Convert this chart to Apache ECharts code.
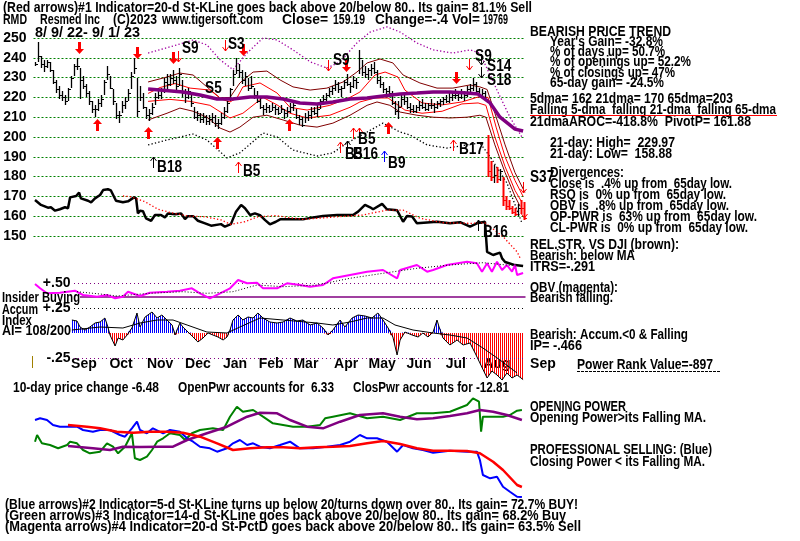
<!DOCTYPE html>
<html><head><meta charset="utf-8">
<script src="https://cdn.jsdelivr.net/npm/echarts@6/dist/echarts.min.js"></script>
<style>html,body{margin:0;padding:0;background:#fff}#c{width:800px;height:541px}</style>
</head><body><div id="c"></div>
<script>
// ---------- DATA (bar index = sampled trading day, 8/9/22 .. 9/1/23) ----------
const hi = [238,248,241,239,239,238,234,229,226,223, 221,225,231,237,240,235,231,227,223,218,
 216,219,221,229,236,231,224,217,213,218, 220,224,233,240,230,226,222,215,214,217,
 222,225,225,230,232,232,234,231,235,229, 224,225,222,215,213,212,212,211,211,212,
 211,209,212,215,218,225,234,240,237,234, 233,230,231,225,223,220,216,217,216,217,
 216,215,216,214,215,217,218,214,211,210, 212,213,215,215,216,219,221,222,225,226,
 229,228,226,229,232,228,231,230,244,239, 236,235,237,238,234,231,228,225,226,223,
 218,218,221,222,220,217,216,216,218,219, 217,217,219,217,218,219,220,221,222,223,
 224,223,224,223,226,227,230,228,225,224, 223,201,188,186,185,184,180,170,168,165,
 164,166,168,167];
const lo = [236,238,235,233,235,233,227,222,219,218, 216,218,225,231,234,219,224,220,216,212,
 210,213,215,221,229,224,216,209,207,212, 214,218,224,232,210,218,214,209,208,211,
 216,219,219,222,224,226,227,223,226,220, 217,219,215,209,208,207,207,206,206,207,
 205,204,206,209,212,218,226,232,230,227, 226,223,224,219,217,214,211,212,212,213,
 211,211,212,209,210,212,213,209,206,205, 207,208,209,211,210,214,216,217,220,221,
 223,222,220,224,226,222,225,224,232,231, 230,229,231,232,227,225,222,220,221,216,
 211,209,215,216,214,212,212,212,213,214, 213,213,214,212,214,215,216,217,217,218,
 219,218,219,218,220,221,223,222,220,219, 218,180,178,177,177,178,165,163,163,161,
 160,160,161,158];
const cl = [237,241,237,236,238,234,228,224,221,220, 218,224,230,236,236,229,226,222,218,214,
 214,217,219,228,232,225,218,211,211,216, 218,222,231,235,213,220,215,211,212,215,
 220,221,223,228,227,230,229,226,232,222, 220,223,217,210,211,209,210,208,209,210,
 207,207,210,213,217,224,232,234,233,229, 231,225,226,221,218,215,214,215,213,215,
 214,212,214,212,213,215,216,210,209,206, 210,211,213,212,214,218,219,221,223,225,
 227,224,225,228,227,226,229,228,240,233, 232,234,235,233,229,227,224,223,222,217,
 213,215,219,218,215,214,213,215,216,215, 214,216,216,215,217,218,219,218,220,221,
 221,220,222,221,224,225,227,223,221,222, 219,183,180,181,179,183,168,165,164,162,
 161,164,164,159.19];

const ma65 = [[37.7,224.2],[49.3,222.7],[55,221.2],[60.7,219.2],[66,219.2],[71.7,220.2],[77.3,220.2],[82.7,219.2],[88.3,217.2],[94,216.7],[99.3,217.7],[105,219.2],[110.7,219.7],[116,220.7],[121.7,221.7],[127.3,222.2],[132.7,222.7],[138.3,222.7],[144,222.2],[147.7,221.7],[151.7,217.2],[155,210],[160,204],[162.7,203]];
const upOuter = [[37.7,227.8],[44,230.3],[48.3,232.3],[52.7,231.3],[57.3,225.3],[61.7,219.7],[65,220],[68.3,227.3],[72.7,232.8],[77.3,233.3],[81.7,228.8],[86,225.3],[91.7,223.7],[97.3,224.7],[102.7,227.8],[107.3,232.8],[110.7,237.4],[115,239.4],[119.3,237.4],[122.7,231.3],[128.3,227.3],[134,224.7],[139.3,224.7],[145,226.3],[148.3,225.3],[150.7,224],[153.3,212],[156.7,196],[160,182],[163.3,172]];
const upInner = [[37.7,222],[41.7,225],[46.7,227],[51.7,224.7],[58.3,223.7],[62.3,219],[65,217.7],[67.3,219.7],[69.3,225.3],[75,227.3],[80.7,222.2],[85,215],[90.7,213.6],[98.3,216],[105,220],[108.3,222.7],[113.3,231.3],[116.7,232.8],[121,230.3],[123.3,223.7],[129,217.2],[135.7,216.2],[142.3,217.7],[147.7,220.2],[151,220],[153.7,205],[156.7,190],[160,178],[162.7,170]];
const loInner = [[37.7,218],[45,219],[51.7,218],[58.3,216],[65,209.6],[69.3,212],[76,220],[80.7,216.2],[85,212],[90.7,209.6],[98.3,211],[105,215],[108.3,217.7],[113.3,219.7],[117.7,219.7],[123.3,213.6],[129,212],[135.7,213],[142.3,216.7],[147.7,217.2],[150.3,216],[153.3,200],[156.7,185],[160,173],[162.3,167]];
const loOuter = [[37.7,208.6],[44,212],[48.3,214.6],[52.7,213],[57.3,210],[61.7,204.5],[65,202.5],[68.3,205],[72.7,210],[77.3,211],[82.7,208.6],[88.3,206],[94,205],[99.3,207],[105,211],[110.7,216],[114,217.7],[118.3,216],[121.7,212.6],[127.3,211],[132.7,210],[138.3,209.6],[144,210],[148.3,211],[150.3,210],[153.3,196],[156.7,182],[160,170],[161.7,165]];
const magDots = [[37.7,242.4],[47.3,246.5],[52.7,249],[57.3,246.5],[61.7,239],[66,234],[70.7,242.4],[76,250],[80.7,249],[86,244],[91.7,238],[97.3,234.8],[101.7,238],[107.3,247.5],[111.7,253],[117.3,255.6],[121.7,253],[127.3,247.5],[132.7,244],[139.3,242.4],[145,244],[148.3,242.4],[154,223.7],[158.3,210],[162.3,200]];
const blkDots = [[37.7,196],[44,198.5],[52.7,201.5],[57.3,198.5],[64,189.4],[68.3,192],[76,202],[80.7,200],[86,193.4],[94,190.4],[99.3,192],[104,197],[110.7,202.5],[116,207],[121.7,202.5],[125,201],[130.7,196],[137.3,194.4],[144,196],[148.3,197],[151.7,190],[157.3,176.8],[160.7,163],[162.3,156.6]];

const rsLine = [[0,168.2],[2,165.7],[4.3,164.3],[5.3,164.5],[6.7,162.8],[8.3,163.5],[10,164.5],[11,164],[11.7,169.5],[13.7,170.2],[14.7,171.9],[15.3,169],[17.7,167.8],[18.7,167],[20,169],[21.7,170.7],[22.7,173.2],[24.3,173.6],[25.3,173],[27,167.8],[29.3,167],[31,167.5],[33,169.5],[33.7,169],[34.3,161.4],[35,162.8],[36,162.5],[37,158.9],[38.7,157.7],[40,160.6],[42,160.6],[43.3,159.4],[44.3,161.4],[46.7,161],[48.7,161.4],[50,158.6],[51,160],[52.7,160],[54.3,157.7],[56.7,156.4],[58.7,155.2],[62,156],[63.3,154.7],[65.3,156],[67,162.3],[68.7,165.7],[70,164],[71.7,160.6],[73.3,161.4],[75,160.5],[76.7,158],[78.3,155.9],[80.3,157.2],[81.7,158.4],[85,158.4],[89.3,158.4],[92.7,159.4],[96,160.1],[100.7,160.6],[106,160.6],[107.7,162.3],[110,165.7],[111.7,164.5],[112.7,163.5],[115.7,166.2],[117.3,163.5],[120.7,163],[122.7,157.2],[124,160.1],[125.7,159.8],[127.3,156.4],[130.7,156.8],[134,157.2],[138.3,156.4],[141.7,157],[145,154.7],[147.3,156.4],[150,157.2],[150.7,142],[152.7,140.4],[155,141.6],[155.7,138.7],[156.7,136.9],[160,135.3],[162.7,134.8]];
const rsMA = [[29.3,170.2],[32,169.8],[36.7,167.3],[41,163.5],[45.3,161.8],[51,160.1],[56.7,159.7],[62,158.1],[65.3,155.9],[70,157.2],[74.3,159.7],[80,160.3],[89.3,158.4],[100.7,159.7],[109.3,160.6],[117.3,163.1],[122.7,163.1],[128.3,159],[136,156.7],[145,156.4],[150,156.6],[156,149.7],[160.7,142],[161.7,138.9]];

const obv = [[0,1.6],[1.7,1.17],[4,0.67],[8.3,0.73],[13.3,0.93],[16,0.5],[20.7,0.33],[24,0.5],[26.7,0.17],[29.3,0.33],[31,0.83],[35,0.4],[38.3,0.73],[44,0.83],[48.3,0.93],[52.3,1.17],[55,0.67],[58.3,0.17],[61.7,0.67],[65,1.17],[67.7,2.0],[70.7,1.67],[74,1.73],[76,1.17],[80.7,1.17],[84,1.67],[88.3,1.5],[91.7,1.33],[96,1.5],[99.3,2.17],[105,2.5],[110.7,2.83],[116,3.0],[120.7,2.17],[121.7,3.0],[127.3,3.5],[130.7,2.83],[132.7,3.0],[137.3,3.5],[144,3.83],[147.3,3.67],[149,2.83],[150.7,3.67],[152.3,2.83],[154,3.83],[155.7,3.0],[157.3,3.5],[159,2.83],[160,3.5],[160.7,2.5],[162.7,2.7]];
const obvMA = [[14,0.83],[21.7,0.6],[27.3,0.4],[38.3,0.67],[49.3,0.83],[57.3,0.67],[66,0.83],[74,1.5],[82.7,1.33],[94,1.5],[105,2.17],[116,2.67],[127.3,3.17],[138.3,3.5],[149.3,3.73],[160.7,3.4]];

const ai = [[12.3,0.13],[14,0.12],[15,0.06],[16.7,0.03],[18.3,0.06],[20,0.10],[21.7,0.11],[23.3,0.15],[24.3,0.06],[25,-0.02],[26.7,-0.13],[27.7,-0.05],[29.3,-0.07],[30.7,-0.02],[32.3,0.05],[34,0.20],[35,0.06],[36.7,0.16],[39,0.21],[40.7,0.15],[42.3,0.18],[44,0.13],[45.7,0.08],[46.7,-0.02],[48.3,0.10],[49.3,0.06],[51,0.01],[52.7,-0.04],[54.3,-0.09],[56,-0.05],[57.7,0.00],[59.3,-0.02],[61,-0.04],[62.7,-0.07],[64,-0.04],[65,0.03],[66,0.13],[67.7,0.18],[69.3,0.13],[71,0.16],[72.7,0.15],[74.3,0.20],[76,0.15],[78.3,0.11],[80.7,0.10],[82.7,0.11],[85,0.15],[87.3,0.12],[89.3,0.13],[91.7,0.08],[94,0.10],[96,0.05],[97.7,-0.02],[99.3,0.03],[101.7,0.13],[103.3,0.06],[105.7,0.15],[107.7,0.18],[110,0.17],[112.3,0.15],[114.3,0.20],[116,0.13],[117.7,0.05],[119.3,-0.04],[120.7,-0.22],[121.7,-0.07],[123.3,0.01],[125.7,-0.02],[127.7,-0.04],[129.3,0.00],[131,-0.04],[132.7,0.01],[134,0.13],[134.7,0.06],[136,-0.05],[138.3,-0.12],[140.7,-0.07],[142.7,-0.12],[145,-0.10],[146.7,-0.20],[148.3,-0.30],[150.7,-0.45],[152.3,-0.38],[154,-0.42],[155.7,-0.47],[157.3,-0.40],[159,-0.45],[160.7,-0.42],[162.7,-0.466]];
const aiMA = [[12.3,0.03],[21.7,0.06],[29.3,0.05],[35,0.10],[40.7,0.13],[46,0.13],[50.7,0.08],[57.3,0.01],[64,0.0],[68.3,0.06],[75,0.15],[82.7,0.13],[94,0.10],[99.3,0.08],[105,0.11],[110.7,0.15],[116,0.15],[120,0.08],[126,0.03],[132.7,0.0],[138.3,-0.02],[144,-0.05],[149.3,-0.15],[155,-0.27],[160.7,-0.40]];
const aiTicks = [0.5, 0.25, -0.25];
const aiTickLabels = ['+.50', '+.25', '-.25'];
const insiderLevel = 0.36;

const opLine = [[0,5.83],[0.7,6.5],[2.3,5.67],[5,5.5],[7.7,5.17],[10.7,5.5],[11.7,5.83],[14,5.67],[16,5.0],[18.3,4.67],[21.7,4.83],[24,5.67],[26,5.33],[27.7,4.67],[30,5.33],[32.3,6.67],[33.3,4.17],[35,4.0],[37.3,4.33],[39,5.0],[40.7,5.83],[42.7,6.17],[45,6.67],[48.3,6.5],[50,6.0],[52.3,6.67],[55,7.0],[59.3,7.17],[62.7,7.0],[65,8.33],[67.3,9.33],[69.3,8.83],[72.7,9.0],[76,8.33],[79.3,7.67],[82.7,7.5],[86,7.33],[90.7,7.33],[95,7.5],[96.7,8.17],[99.3,8.33],[105,8.67],[110.7,8.17],[116,8.33],[121.7,8.0],[127.3,8.67],[132.7,8.67],[138.3,8.83],[144,9.5],[146,10.17],[148,9.83],[148.7,6.83],[149.3,8.33],[152.7,8.33],[156,8.33],[158.3,8.5],[160.7,8.93],[162.3,9.0]];
const opMA = [[11,5.4],[19.3,5.17],[25,5.0],[29.3,5.33],[35,5.3],[41.7,5.33],[46,5.33],[50.7,6.0],[57.3,6.67],[64,7.33],[70.7,8.33],[75,8.73],[80.7,8.67],[85,8.0],[90.7,7.33],[96,7.17],[101.7,7.83],[108.3,8.5],[116,8.67],[121.7,8.33],[127.3,8.07],[132.7,8.17],[138.3,8.4],[144,8.67],[148.3,9.0],[152.7,8.83],[157.3,8.5],[162.3,8.0]];
const cpLine = [[0,8.0],[1.7,8.17],[4,8.0],[6,7.5],[8.3,7.33],[10.7,7.33],[14,7.33],[16,7.0],[19.3,6.83],[21.7,7.0],[25,7.0],[28.3,6.5],[30,6.33],[32.3,7.17],[34,7.83],[35,7.0],[37.3,6.67],[39.3,7.17],[42.7,6.67],[45,7.0],[48.3,6.83],[50.7,6.17],[52.7,5.83],[55,5.33],[58.3,5.17],[60.7,4.83],[64,5.17],[66,5.67],[68.3,6.0],[70.7,5.5],[72.7,5.67],[75,5.33],[78.3,5.17],[81.7,5.5],[85,5.83],[88.3,5.17],[92.7,5.17],[97.3,5.33],[101.7,5.5],[105,5.83],[108.3,6.5],[110.7,6.17],[114,6.17],[117.3,5.83],[120.7,4.83],[122.7,5.5],[126,5.17],[129.3,5.0],[132.7,4.73],[138.3,4.93],[144,4.83],[147.3,4.83],[148.3,4.0],[149.3,2.5],[151.7,2.17],[154,2.33],[156,1.33],[158.3,0.83],[160.7,0.33],[162.3,0.3]];
const cpMA = [[11,7.5],[17.3,7.33],[21.7,7.17],[27.3,6.83],[32.7,6.73],[38.3,6.83],[44,6.83],[49.3,6.73],[55,6.33],[60.7,5.67],[66,5.0],[71.7,5.17],[77.3,5.27],[82.7,5.27],[88.3,5.17],[94,5.27],[99.3,5.33],[105,5.4],[110.7,5.67],[116,5.9],[121.7,5.6],[127.3,5.17],[132.7,4.93],[138.3,4.93],[144,4.9],[148.3,4.67],[152.7,3.83],[156,3.0],[160.7,1.5],[162.3,1.3]];

const bigSell = [[14.7,245],[34,242.4],[46,239.9],[69.3,243.9],[103.7,235.9],[140.3,229.8]];
const bigBuy = [[20.7,206.1],[37.7,202],[60.7,197],[84.7,206.1],[117.7,204.5]];
const thinSell = [[63.3,246],[47.7,240.4],[97.7,235.9],[144.7,236.4],[162.7,174.2],[163,161.6]];
const thinBuy = [[67.7,184.8],[101.7,195],[106,202],[108,202],[139.3,196]];
const blackBuy = [[39.3,187.4],[104,195.5],[147.7,155.6]];
const blackSell = [[148.7,238.9],[148.7,232.3]];
const blueBuy = [[116.3,190.4]];
const sigLabels = [['S9',49,244.4],['S3',64.3,246.5],['S5',56.7,224.7],['S9',99.3,238.4],['S9',146.7,240.4],['S14',150.7,235.4],['S18',150.7,228.3],['B18',40.7,184.3],['B5',69.3,182.3],['B5',107.7,198.5],['B5',103.3,190.9],['B16',106,190.9],['B9',117.7,186.4],['B17',141.3,193.4],['B16',149.3,151.5],['S37',165,179.3]];

const monthLabels = ['Sep','Oct','Nov','Dec','Jan','Feb','Mar','Apr','May','Jun','Jul','Aug','Sep'];
const monthPos = [16.3,28.7,41.7,54.3,66.7,78.7,90.3,103.7,115.7,128,140.3,154,169.3];

const texts = [
 ['(Red arrows)#1 Indicator=20-d St-KLine goes back above 20/below 80.. Its gain= 81.1% Sell',3,8,529],
 ['RMD',3,20,24],['Resmed Inc',40,20,60],['(C)2023',113,20,44],['www.tigersoft.com',162,20,101],
 ['Close=',282,20,46],['159.19',333,20,32],['Change=-.4',375,20,73],['Vol=',452,20,28],['19769',483,20,25],
 ['8/ 9/ 22- 9/ 1/ 23',35,33,105],
 ['BEARISH PRICE TREND',530,32,141],
 ["Year's Gain= -32.8%",550,42,113],
 ['% of days up= 50.7%',550,52,115],
 ['% of openings up= 52.2%',550,62,141],
 ['% of closings up= 47%',550,73,125],
 ['65-day gain= -24.5%',550,83,114],
 ['5dma= 162 21dma= 170 65dma=203',530,99,203],
 ['Falling 5-dma  falling 21-dma  falling 65-dma',530,110,246],
 ['21dmaAROC=-418.8%  PivotP= 161.88',530,122,221],
 ['21-day: High=  229.97',550,143,125],
 ['21-day: Low=  158.88',550,154,122],
 ['Divergences:',550,173,74],
 ['Close is  .4% up from  65day low.',550,184,182],
 ['RSQ is  0% up from  65day low.',550,195,176],
 ['OBV is  .8% up from  65day low.',550,206,179],
 ['OP-PWR is  63% up from  65day low.',550,217,207],
 ['CL-PWR is  0% up from  65day low.',550,228,198],
 ['REL.STR. VS DJI (brown):',530,245,149],
 ['Bearish: below MA',530,256,105],
 ['ITRS=-.291',530,267,65],
 ['OBV (magenta):',530,288,88],
 ['Bearish falling.',530,298,83],
 ['Bearish: Accum.<0 & Falling',530,335,158],
 ['IP= -.466',530,346,52],
 ['Power Rank Value=-897',577,365,136],
 ['OPENING POWER',530,407,96],
 ['Opening Power>its Falling MA.',530,418,176],
 ['PROFESSIONAL SELLING: (Blue)',530,450,182],
 ['Closing Power < its Falling MA.',530,462,175],
 ['Insider Buying',2,298,78],['Accum',2,310,36],['Index',2,321,30],['AI= 108/200',2,331,69],
 ['10-day price change -6.48',13,388,146],
 ['OpenPwr accounts for  6.33',178,388,156],
 ['ClosPwr accounts for -12.81',353,388,156],
 ['(Blue arrows)#2 Indicator=5-d St-KLine turns up below 20/turns down over 80.. Its gain= 72.7% BUY!',5,505,573],
 ['(Green arrows)#3 Indicator=14-d St-KLine goes back above 20/below 80.. Its gain= 68.2% Buy',5,516,561],
 ['(Magenta arrows)#4 Indicator=20-d St-PctD goes back above 20/below 80.. Its gain= 63.5% Sell',5,527,576]
];

// ---------- RENDERING ----------
const FONT = '"Liberation Sans", Arial, sans-serif';
const N = hi.length;
const XMAX = N - 0.5;
const bars = hi.map((h, i) => [i, h, lo[i], cl[i]]);
let breakIdx = N;
for (let i = 1; i < N; i++) { if (hi[i] < lo[i - 1] - 5) { breakIdx = i; break; } }

const m2d = document.createElement('canvas').getContext('2d');
function txt(s, x, y, w, o) {
  o = o || {};
  const size = o.size || 14;
  const font = 'bold ' + size + 'px ' + FONT;
  m2d.font = font;
  const mw = m2d.measureText(s).width;
  return { type: 'text', x: x, y: y, scaleX: w ? w / mw : 1, z: 100, silent: true,
    style: { text: s, font: font, fill: o.color || '#000', verticalAlign: 'middle', textVerticalAlign: 'middle' } };
}
function stripe(color) {
  const c = document.createElement('canvas'); c.width = 2; c.height = 4;
  const g = c.getContext('2d'); g.fillStyle = color; g.fillRect(0, 0, 1, 4); return c;
}
function L(data, gi, color, width, type, z) {
  return { type: 'line', xAxisIndex: gi, yAxisIndex: gi, data: data, symbol: 'none', clip: false, silent: true,
    animation: false, z: z || 3, lineStyle: { color: color, width: width, type: type || 'solid' } };
}
function arrowSeries(data, color, thick, up) {
  return { type: 'custom', xAxisIndex: 0, yAxisIndex: 0, data: data, clip: false, silent: true, z: 8, animation: false,
    renderItem: function (p, api) {
      const c = api.coord([api.value(0), api.value(1)]);
      const x = Math.round(c[0]) + 0.5, y = Math.round(c[1]);
      const s = up ? -1 : 1;
      if (thick) {
        return { type: 'group', children: [
          { type: 'rect', shape: { x: x - 1.5, y: up ? y - 1 : y - 6, width: 3, height: 7 }, style: { fill: color } },
          { type: 'polygon', shape: { points: [[x - 4.5, y + s], [x + 4.5, y + s], [x, y + 6 * s]] }, style: { fill: color } }
        ] };
      }
      return { type: 'group', children: [
        { type: 'line', shape: { x1: x, y1: y - 6 * s, x2: x, y2: y + 5 * s }, style: { stroke: color, lineWidth: 1 } },
        { type: 'polyline', shape: { points: [[x - 3, y + s], [x, y + 5 * s], [x + 3, y + s]] }, style: { stroke: color, lineWidth: 1, fill: null } }
      ] };
    } };
}

const grids = [
  { left: 33.5, width: 492, top: 38, height: 198 },
  { left: 33.5, width: 492, top: 38, height: 237.6 },
  { left: 33.5, width: 492, top: 250, height: 50 },
  { left: 33.5, width: 492, top: 283, height: 100 },
  { left: 33.5, width: 492, top: 390, height: 110 },
  { left: 33.5, width: 528, top: 350, height: 1 }
];
const xAxes = [0, 1, 2, 3, 4].map(g => ({ type: 'value', gridIndex: g, min: -0.5, max: XMAX, show: false }));
xAxes.push({ type: 'value', gridIndex: 5, min: -0.5, max: XMAX + 12, axisLine: { show: false }, axisTick: { show: false },
  splitLine: { show: false },
  axisLabel: { customValues: monthPos, margin: 6, fontSize: 14, fontWeight: 'bold', color: '#000', fontFamily: FONT,
    formatter: v => { const k = monthPos.findIndex(m => Math.abs(m - v) < 1e-6); return k >= 0 ? monthLabels[k] : ''; } } });
const yAxes = [
  { type: 'value', gridIndex: 0, min: 150, max: 250, interval: 10, axisLine: { show: false }, axisTick: { show: false },
    axisLabel: { fontSize: 14, fontWeight: 'bold', color: '#000', fontFamily: FONT, margin: 7 },
    splitLine: { show: true, lineStyle: { color: '#008000', width: 1, type: [2, 2] } } },
  { type: 'value', gridIndex: 1, min: 130, max: 250, show: false },
  { type: 'value', gridIndex: 2, min: 0, max: 5, show: false },
  { type: 'value', gridIndex: 3, min: -0.5, max: 0.5, interval: 0.25, axisLine: { show: false }, axisTick: { show: false },
    splitLine: { show: false },
    axisLabel: { margin: -37, fontSize: 14, fontWeight: 'bold', color: '#000', fontFamily: FONT,
      formatter: v => { const k = aiTicks.findIndex(t => Math.abs(t - v) < 1e-6); return k >= 0 ? aiTickLabels[k] : ''; } } },
  { type: 'value', gridIndex: 4, min: 0, max: 11, show: false },
  { type: 'value', gridIndex: 5, min: 0, max: 1, show: false }
];

const series = [
  L(upOuter, 0, '#800000', 1), L(loOuter, 0, '#800000', 1),
  L(upInner, 0, '#ff0000', 1), L(loInner, 0, '#ff0000', 1),
  L(magDots, 0, '#a000a0', 1.3, [1.3, 2.2]), L(blkDots, 0, '#000', 1.3, [1.3, 2.2]),
  { type: 'custom', xAxisIndex: 0, yAxisIndex: 0, data: bars, encode: { x: 0, y: [1, 2] }, clip: false, silent: true, z: 4, animation: false,
    renderItem: function (p, api) {
      const i = p.dataIndex;
      const red = i >= breakIdx && (i === breakIdx || cl[i] <= cl[i - 1]);
      const col = red ? '#ff0000' : '#000';
      const ph = api.coord([api.value(0), api.value(1)]);
      const pl = api.coord([api.value(0), api.value(2)]);
      const pc = api.coord([api.value(0), api.value(3)]);
      const x = Math.round(ph[0]) + 0.5, yc = Math.round(pc[1]) + 0.5;
      return { type: 'group', children: [
        { type: 'line', shape: { x1: x, y1: Math.round(ph[1]), x2: x, y2: Math.round(pl[1]) }, style: { stroke: col, lineWidth: red ? 2 : 1.3 } },
        { type: 'line', shape: { x1: x, y1: yc, x2: x + 2.5, y2: yc }, style: { stroke: col, lineWidth: 1 } }
      ] };
    } },
  L(ma65, 0, '#800080', 3.5, 'solid', 5),
  L(rsLine, 1, '#000', 2.5, 'solid', 5), L(rsMA, 1, '#ff0000', 1.3, [1.3, 2.2], 5),
  L(obv, 2, '#ff00ff', 2, 'solid', 5), L(obvMA, 2, '#000', 1, [1, 2], 5),
  Object.assign(L(ai.map(d => [d[0], Math.max(d[1], 0)]), 3, '#0000ff', 0), { areaStyle: { origin: 0, opacity: 1, color: { image: stripe('#0000ff'), repeat: 'repeat' } } }),
  Object.assign(L(ai.map(d => [d[0], Math.min(d[1], 0)]), 3, '#ff0000', 0), { areaStyle: { origin: 0, opacity: 1, color: { image: stripe('#ff0000'), repeat: 'repeat' } } }),
  Object.assign(L(ai, 3, '#000', 1, 'solid', 5), { markLine: { silent: true, symbol: 'none', label: { show: false }, animation: false,
    data: [
      [{ coord: [13, aiTicks[0]], lineStyle: { color: '#800080', type: [1, 3], width: 1 } }, { coord: [XMAX, aiTicks[0]] }],
      [{ coord: [13, aiTicks[1]], lineStyle: { color: '#000', type: [1, 3], width: 1 } }, { coord: [XMAX, aiTicks[1]] }],
      [{ coord: [13, aiTicks[2]], lineStyle: { color: '#800080', type: [1, 3], width: 1 } }, { coord: [XMAX, aiTicks[2]] }],
      [{ coord: [15, insiderLevel], lineStyle: { color: '#800080', type: 'solid', width: 1.5 } }, { coord: [XMAX, insiderLevel] }]
    ] } }),
  L(aiMA, 3, '#000', 1, 'solid', 5),
  L(opLine, 4, '#008000', 2), L(opMA, 4, '#800080', 2.5, 'solid', 4),
  L(cpLine, 4, '#0000ff', 2), L(cpMA, 4, '#ff0000', 2.5, 'solid', 4),
  arrowSeries(bigSell, '#ff0000', true, false),
  arrowSeries(bigBuy, '#ff0000', true, true),
  arrowSeries(thinSell, '#ff0000', false, false),
  arrowSeries(thinBuy, '#ff0000', false, true),
  arrowSeries(blackBuy, '#000', false, true),
  arrowSeries(blackSell, '#000', false, false),
  arrowSeries(blueBuy, '#0000ff', false, true),
  { type: 'custom', xAxisIndex: 0, yAxisIndex: 0, data: sigLabels.map(d => [d[1], d[2]]), clip: false, silent: true, z: 9, animation: false,
    renderItem: function (p, api) {
      const d = sigLabels[p.dataIndex];
      const c = api.coord([api.value(0), api.value(1)]);
      return { type: 'text', x: c[0], y: c[1], scaleX: 0.85,
        style: { text: d[0], font: 'bold 16px ' + FONT, fill: '#000', verticalAlign: 'middle', textVerticalAlign: 'middle' } };
    } },
  { type: 'line', xAxisIndex: 5, yAxisIndex: 5, data: [[0, 0]], symbol: 'none', silent: true, lineStyle: { opacity: 0 } }
];

const graphics = texts.map(t => txt(t[0], t[1], t[2], t[3]));
graphics.push({ type: 'line', silent: true, z: 100, shape: { x1: 530, y1: 115.5, x2: 777, y2: 115.5 }, style: { stroke: '#ff0000', lineWidth: 1 } });
graphics.push({ type: 'line', silent: true, z: 100, shape: { x1: 577, y1: 371.5, x2: 720, y2: 371.5 }, style: { stroke: '#000', lineWidth: 1, lineDash: [3, 1] } });
graphics.push({ type: 'line', silent: true, z: 100, shape: { x1: 32.5, y1: 356, x2: 32.5, y2: 368 }, style: { stroke: '#a08000', lineWidth: 1 } });

const chart = echarts.init(document.getElementById('c'), null, { renderer: 'canvas' });
chart.setOption({
  backgroundColor: '#fff', animation: false,
  textStyle: { fontFamily: FONT },
  grid: grids, xAxis: xAxes, yAxis: yAxes, series: series, graphic: graphics
});
</script></body></html>
